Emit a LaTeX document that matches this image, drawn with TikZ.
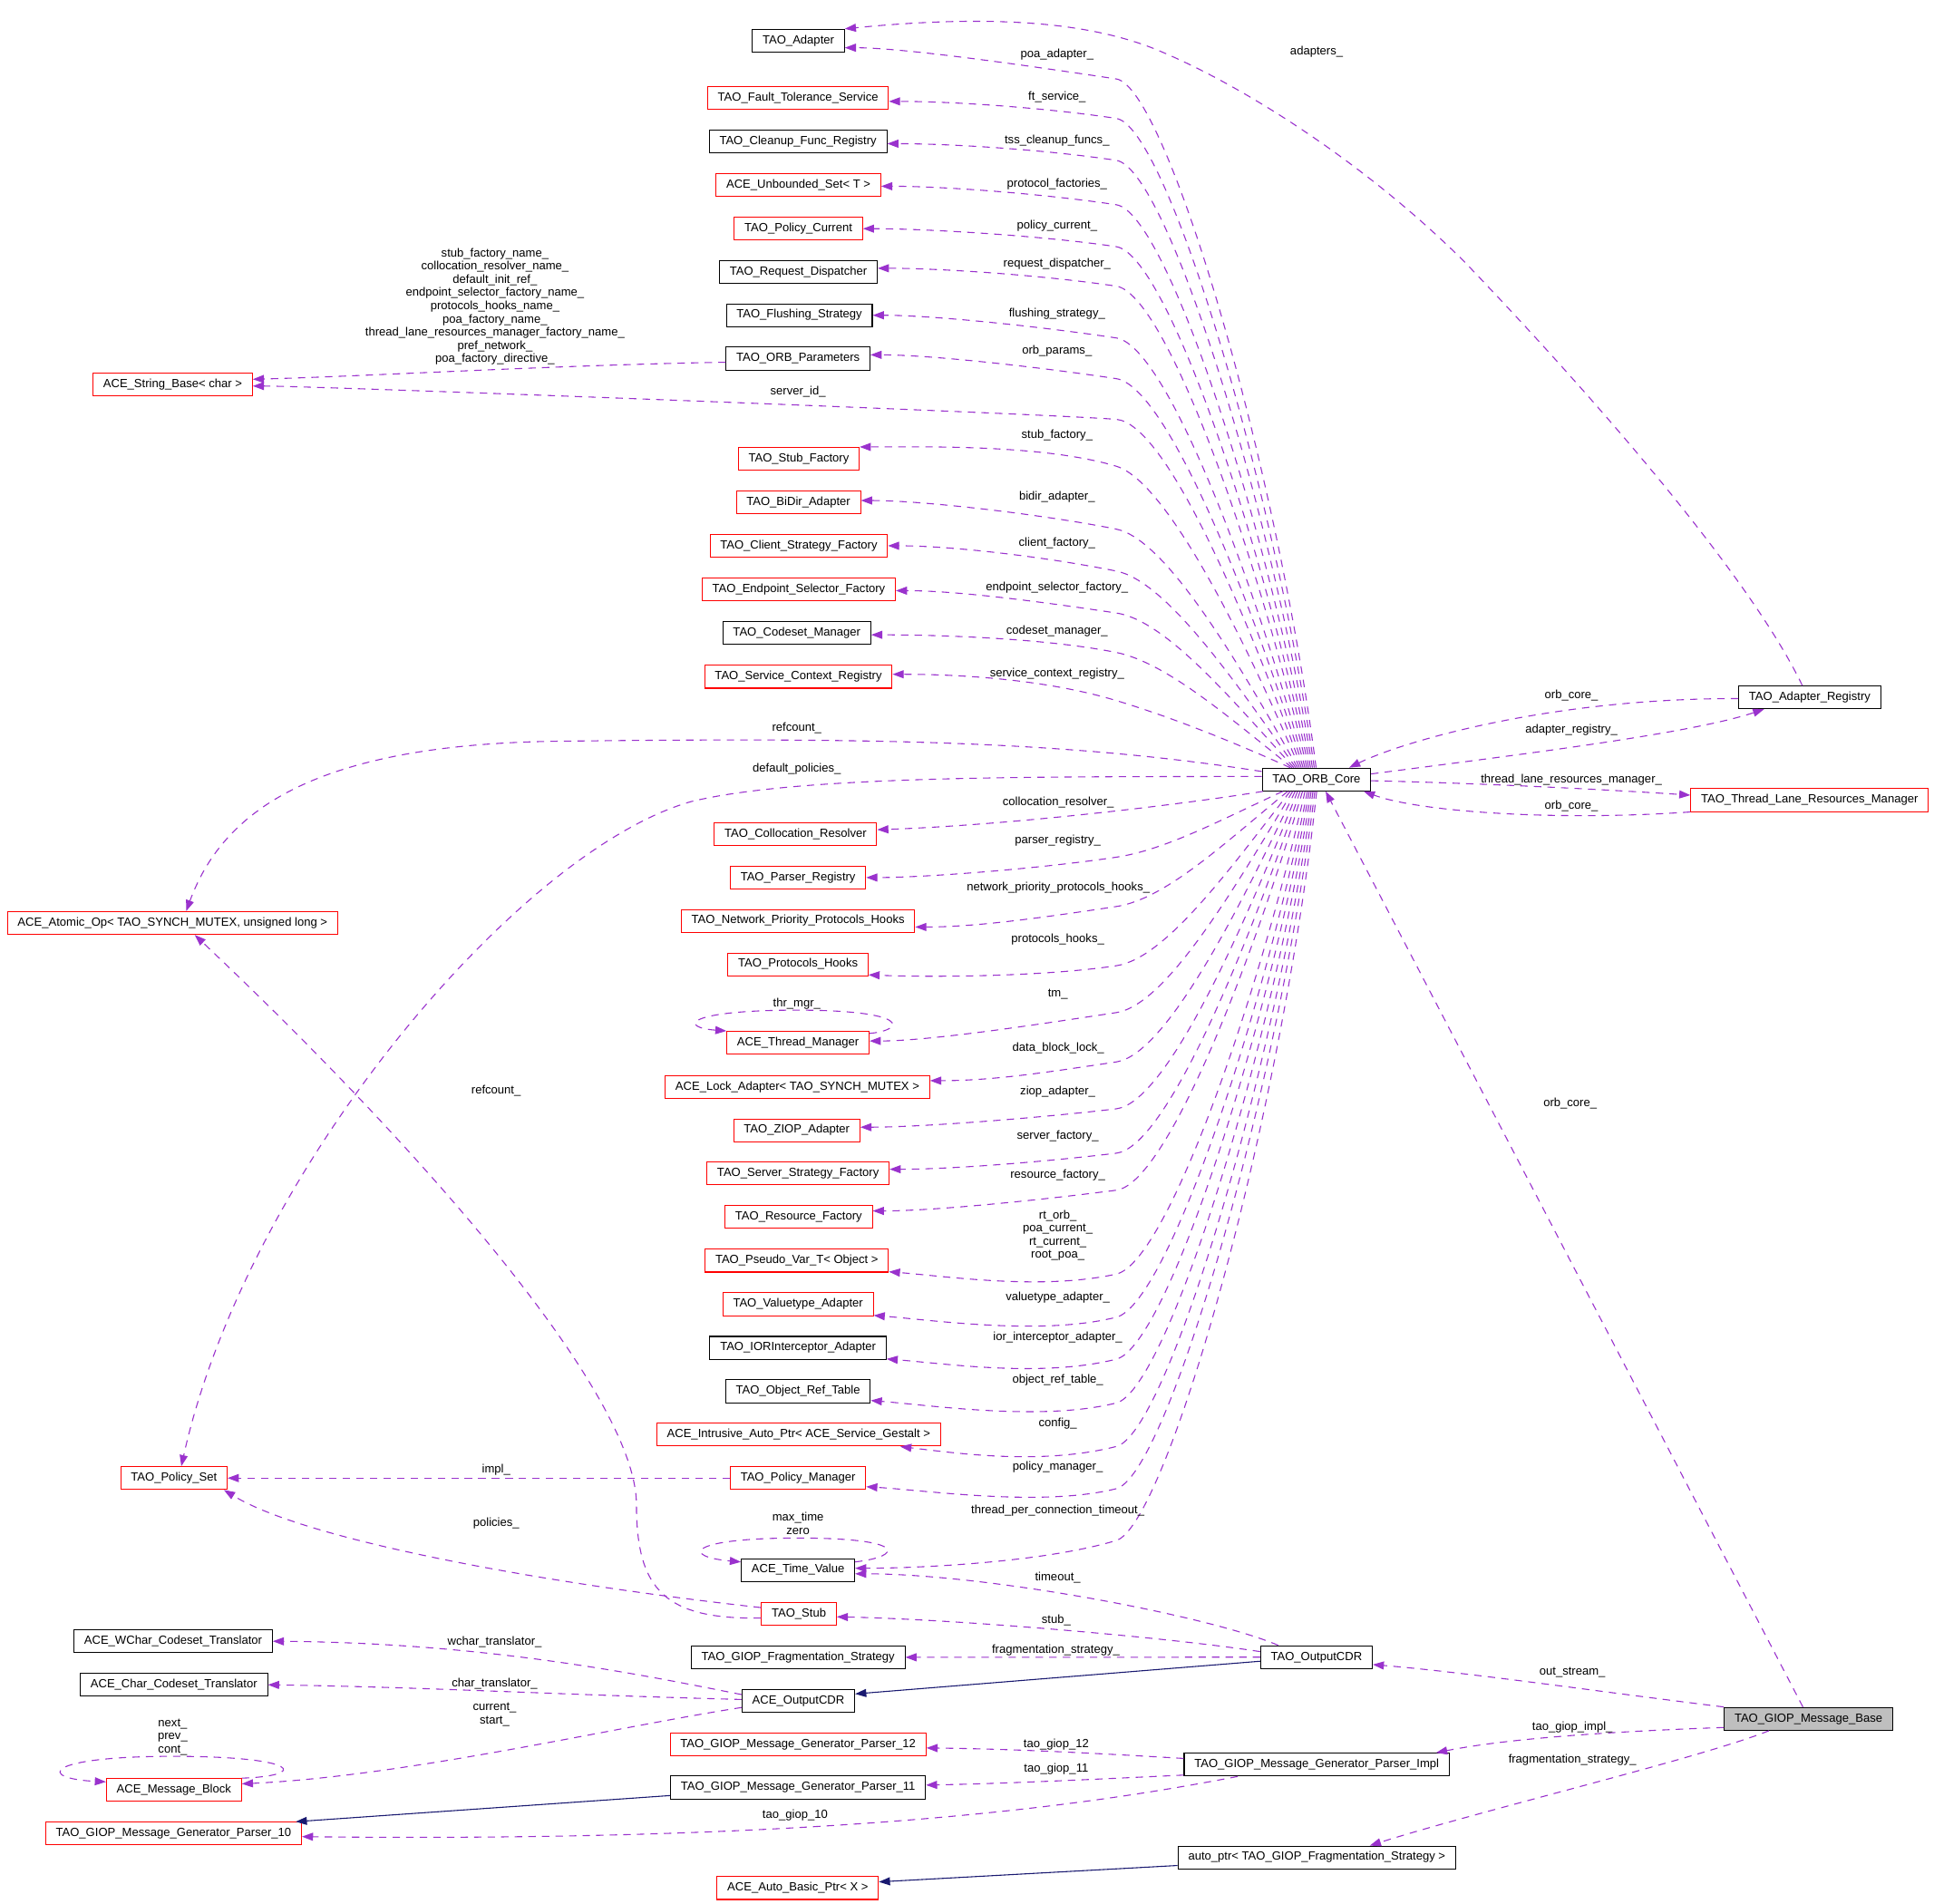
\documentclass[tikz,border=0pt]{standalone}
\usepackage{fontspec}
\setmainfont{Liberation Sans}
\usetikzlibrary{arrows.meta,calc}
\definecolor{depcol}{HTML}{9A32CD}
\definecolor{inhcol}{HTML}{191970}
\definecolor{basefill}{HTML}{BFBFBF}
\tikzset{
  box/.style={draw=black, line width=0.75pt, rectangle, minimum height=18.5pt, inner xsep=8.3pt, inner ysep=0pt, text height=7pt, text depth=2.2pt, font=\fontsize{9.6}{10.7}\selectfont},
  rbox/.style={box, draw=red},
  gbox/.style={box, fill=basefill},
  lab/.style={inner sep=0pt, font=\fontsize{9.6}{10.72}\selectfont, align=center},
  depedge/.style={draw=depcol, line width=0.8pt, dash pattern=on 6pt off 5pt, -{Triangle[length=9pt,width=6.5pt]}},
  inhedge/.style={draw=inhcol, line width=0.8pt, -{Triangle[length=9pt,width=6.5pt]}}
}
\newcommand\orbup[5]{\draw[depedge] ([xshift={#1-1067.3}]core.north) .. controls ({#1-(0.4-0.2*(623-#2)/560)*(#1-905)},{623-0.45*(623-#2)}) and (945,{#2+40*(#3)}) .. (905,#2) .. controls (845,{#2-60*(#3)}) and ($(#4)+(50,#5)$) .. (#4);}
\newcommand\orbdn[5]{\draw[depedge] ([xshift={#1-1067.3}]core.south) .. controls ({#1-(0.4-0.2*(#2-641)/560)*(#1-905)},{641+0.45*(#2-641)}) and (945,{#2+40*(#3)}) .. (905,#2) .. controls (845,{#2-60*(#3)}) and ($(#4)+(50,#5)$) .. (#4);}
\begin{document}
\begin{tikzpicture}[x=1pt,y=-1pt]
\fill[white] (0,0) rectangle (1568,1543.7);
\useasboundingbox (0,0) rectangle (1568,1543.7);

% ---------- nodes ----------
\node[box] (adapter) at (647.3,33) {TAO\_Adapter};
\node[rbox] (ft) at (647,79.2) {TAO\_Fault\_Tolerance\_Service};
\node[box] (cleanup) at (647,114.5) {TAO\_Cleanup\_Func\_Registry};
\node[rbox] (unbounded) at (647.3,150) {ACE\_Unbounded\_Set< T >};
\node[rbox] (polcur) at (647.3,185.4) {TAO\_Policy\_Current};
\node[box] (reqdisp) at (647.3,220.5) {TAO\_Request\_Dispatcher};
\node[box] (flush) at (648,255.6) {TAO\_Flushing\_Strategy};
\node[box] (params) at (647,290.7) {TAO\_ORB\_Parameters};
\node[rbox] (strbase) at (140,311.5) {ACE\_String\_Base< char >};
\node[rbox] (stubfac) at (647.6,372) {TAO\_Stub\_Factory};
\node[rbox] (bidir) at (647.3,407.3) {TAO\_BiDir\_Adapter};
\node[rbox] (client) at (647.6,442.5) {TAO\_Client\_Strategy\_Factory};
\node[rbox] (endpoint) at (647.6,477.9) {TAO\_Endpoint\_Selector\_Factory};
\node[box] (codeset) at (646,513.2) {TAO\_Codeset\_Manager};
\node[rbox] (servctx) at (647.3,548.7) {TAO\_Service\_Context\_Registry};
\node[box] (ar) at (1467.2,565.4) {TAO\_Adapter\_Registry};
\node[box] (core) at (1067.3,632) {TAO\_ORB\_Core};
\node[rbox] (tl) at (1467.1,648.7) {TAO\_Thread\_Lane\_Resources\_Manager};
\node[rbox] (colloc) at (645,676.3) {TAO\_Collocation\_Resolver};
\node[rbox] (parser) at (647,711.5) {TAO\_Parser\_Registry};
\node[rbox] (atomic) at (139.9,748.4) {ACE\_Atomic\_Op< TAO\_SYNCH\_MUTEX, unsigned long >};
\node[rbox] (network) at (647,746.6) {TAO\_Network\_Priority\_Protocols\_Hooks};
\node[rbox] (protohooks) at (647,781.9) {TAO\_Protocols\_Hooks};
\node[rbox] (thrmgr) at (647,845.5) {ACE\_Thread\_Manager};
\node[rbox] (lock) at (646.5,881.2) {ACE\_Lock\_Adapter< TAO\_SYNCH\_MUTEX >};
\node[rbox] (ziop) at (646,916.4) {TAO\_ZIOP\_Adapter};
\node[rbox] (server) at (647,951.5) {TAO\_Server\_Strategy\_Factory};
\node[rbox] (resource) at (647.5,986.8) {TAO\_Resource\_Factory};
\node[rbox] (pseudo) at (646,1022.1) {TAO\_Pseudo\_Var\_T< Object >};
\node[rbox] (valuetype) at (647,1057.5) {TAO\_Valuetype\_Adapter};
\node[box] (ior) at (647,1092.8) {TAO\_IORInterceptor\_Adapter};
\node[box] (objref) at (647,1128) {TAO\_Object\_Ref\_Table};
\node[rbox] (intrusive) at (647.5,1163.2) {ACE\_Intrusive\_Auto\_Ptr< ACE\_Service\_Gestalt >};
\node[rbox] (pset) at (141,1198.4) {TAO\_Policy\_Set};
\node[rbox] (pmgr) at (647,1198.4) {TAO\_Policy\_Manager};
\node[box] (timevalue) at (647,1273) {ACE\_Time\_Value};
\node[rbox] (stub) at (647.7,1308.4) {TAO\_Stub};
\node[box] (wchar) at (140.4,1330.7) {ACE\_WChar\_Codeset\_Translator};
\node[box] (fragstrat) at (647,1343.7) {TAO\_GIOP\_Fragmentation\_Strategy};
\node[box] (ocdr) at (1067.3,1343.6) {TAO\_OutputCDR};
\node[box] (charT) at (141,1366) {ACE\_Char\_Codeset\_Translator};
\node[box] (aocdr) at (647.3,1378.9) {ACE\_OutputCDR};
\node[gbox] (base) at (1466.2,1393.6) {TAO\_GIOP\_Message\_Base};
\node[rbox] (p12) at (647,1414.2) {TAO\_GIOP\_Message\_Generator\_Parser\_12};
\node[box] (impl) at (1067.5,1430.7) {TAO\_GIOP\_Message\_Generator\_Parser\_Impl};
\node[rbox] (msgblock) at (141,1451.3) {ACE\_Message\_Block};
\node[box] (p11) at (647,1449.3) {TAO\_GIOP\_Message\_Generator\_Parser\_11};
\node[rbox] (p10) at (140.7,1486.6) {TAO\_GIOP\_Message\_Generator\_Parser\_10};
\node[box] (autoptr) at (1067.6,1506) {auto\_ptr< TAO\_GIOP\_Fragmentation\_Strategy >};
\node[rbox] (autobasic) at (646.8,1530.8) {ACE\_Auto\_Basic\_Ptr< X >};

% ---------- target points ----------
\coordinate (t1) at ([yshift=-5.7]adapter.east);
\coordinate (t2) at ([yshift=-3]ft.east);
\coordinate (t3) at ([yshift=-2]cleanup.east);
\coordinate (t4) at ([yshift=-1]unbounded.east);
\coordinate (t5) at (polcur.east);
\coordinate (t6) at ([yshift=3]reqdisp.east);
\coordinate (t7) at (flush.east);
\coordinate (t8) at ([yshift=3]params.east);
\coordinate (t9) at ([yshift=-1.5]strbase.east);
\coordinate (t10) at (stubfac.north east);
\coordinate (t11) at ([yshift=1.5]bidir.east);
\coordinate (t12) at (client.east);
\coordinate (t13) at ([yshift=-1]endpoint.east);
\coordinate (t14) at ([yshift=-1.5]codeset.east);
\coordinate (t15) at ([yshift=2]servctx.east);
\coordinate (u1) at ([yshift=3.6]colloc.east);
\coordinate (u2) at (parser.east);
\coordinate (u3) at ([yshift=-5]network.east);
\coordinate (u4) at ([yshift=-8.5]protohooks.east);
\coordinate (u5) at ([yshift=1.5]thrmgr.east);
\coordinate (u6) at ([yshift=5]lock.east);
\coordinate (u7) at ([yshift=2.5]ziop.east);
\coordinate (u8) at ([yshift=3.5]server.east);
\coordinate (u9) at ([yshift=5]resource.east);
\coordinate (u10) at ([yshift=-9]pseudo.east);
\coordinate (u11) at ([yshift=-9]valuetype.east);
\coordinate (u12) at ([yshift=-9]ior.east);
\coordinate (u13) at ([yshift=-7.5]objref.east);
\coordinate (u14) at ([xshift=-33]intrusive.south east);
\coordinate (u15) at ([yshift=-7]pmgr.east);
\coordinate (u16) at ([yshift=1.5]timevalue.east);

% ---------- ORB core fan ----------
\orbup{1067}{64}{0.15}{t1}{0}
\orbup{1065.5}{96}{0.15}{t2}{0}
\orbup{1064}{130}{0.15}{t3}{0}
\orbup{1062.5}{166}{0.15}{t4}{0}
\orbup{1061}{200}{0.15}{t5}{0}
\orbup{1059.5}{232}{0.15}{t6}{0}
\orbup{1058}{274}{0.15}{t7}{0}
\orbup{1056.5}{307}{0.15}{t8}{0}
\orbup{1055}{340}{0.08}{t9}{0}
\orbup{1053.5}{378}{0.3}{t10}{0}
\orbup{1052}{429}{0.2}{t11}{0}
\orbup{1050.5}{463}{0.2}{t12}{0}
\orbup{1049}{497}{0.15}{t13}{0}
\orbup{1047.5}{529}{0.2}{t14}{0}
\orbup{1046}{568}{0.3}{t15}{0}
\draw[depedge] ([xshift=1]core.south west) .. controls (960,652) and (820,669) .. (u1);
\orbdn{1040}{695}{-0.15}{u2}{0}
\orbdn{1044}{735}{-0.15}{u3}{0}
\orbdn{1046}{783}{-0.15}{u4}{2}
\orbdn{1048}{821}{-0.15}{u5}{0}
\orbdn{1050}{861}{-0.15}{u6}{0}
\orbdn{1052}{899}{-0.12}{u7}{0}
\orbdn{1054}{935}{-0.12}{u8}{0}
\orbdn{1056}{965}{-0.13}{u9}{0}
\orbdn{1058}{1033}{-0.22}{u10}{4}
\orbdn{1060}{1068}{-0.25}{u11}{4}
\orbdn{1061.5}{1102}{-0.25}{u12}{4}
\orbdn{1063}{1137.5}{-0.25}{u13}{4}
\orbdn{1064.5}{1172.8}{-0.25}{u14}{6}
\orbdn{1066}{1207}{-0.25}{u15}{3}
\orbdn{1067.5}{1249}{-0.3}{u16}{0}

% core left side
\draw[depedge] ([yshift=6.5]core.west) .. controls (860,600) and (700,598) .. (450,601) .. controls (250,604) and (180,660) .. ([xshift=11]atomic.north);
\draw[depedge] ([yshift=2.5]core.west) .. controls (850,630) and (650,628) .. (560,650) .. controls (420,690) and (200,950) .. ([xshift=6]pset.north);

% right side
\draw[depedge] ([yshift=-1]ar.west) .. controls (1260,566) and (1140,600) .. ([xshift=26.5]core.north);
\draw[depedge] ([yshift=4.5]core.east) .. controls (1230,612) and (1370,595) .. ([xshift=-37]ar.south);
\draw[depedge] ([yshift=-1]core.east) .. controls (1200,635) and (1300,640) .. ([yshift=4]tl.west);
\draw[depedge] (tl.south west) .. controls (1260,666) and (1150,658) .. ([xshift=-6]core.south east);
\draw[depedge] ([xshift=-6]ar.north) .. controls (1420,470) and (1300,330) .. (1188,213) .. controls (1110,135) and (1010,70) .. (937,40) .. controls (880,17) and (800,12) .. (adapter.north east);
\draw[depedge] ([xshift=-4.5]base.north) -- ([xshift=7.5]core.south);
\draw[depedge] (base.north west) .. controls (1300,1372) and (1190,1356) .. ([yshift=-6]ocdr.east);
\draw[depedge] ([yshift=-7]base.west) .. controls (1300,1404) and (1220,1410) .. ([xshift=-11]impl.north east);
\draw[depedge] ([xshift=-32]base.south) .. controls (1380,1425) and (1200,1468) .. ([xshift=43]autoptr.north);

% params -> string base
\draw[depedge] ([yshift=-3]params.west) .. controls (450,296) and (300,305) .. ([yshift=4]strbase.east);

% self loops
\draw[depedge] ([yshift=-2]thrmgr.north east) .. controls (735,835) and (738,819) .. (646,819) .. controls (555,819) and (550,833) .. (thrmgr.north west);
\draw[depedge] ([yshift=-3]timevalue.north east) .. controls (732,1262) and (737,1247) .. (647,1247) .. controls (557,1247) and (552,1262) .. ([yshift=-3]timevalue.north west);
\draw[depedge] (msgblock.north east) .. controls (250,1440) and (245,1424) .. (140,1424) .. controls (35,1424) and (30,1442) .. ([yshift=-3]msgblock.north west);

% policy set / stub
\draw[depedge] (pmgr.west) -- (pset.east);
\draw[depedge] ([yshift=5]stub.west) .. controls (450,1285) and (250,1250) .. ([xshift=-3]pset.south east);
\draw[depedge] ([yshift=-3.5]stub.west) .. controls (540,1313) and (516,1290) .. (516,1220) .. controls (516,1130) and (340,930) .. ([xshift=18]atomic.south);

% output CDR
\draw[depedge] ([xshift=-31]ocdr.north) .. controls (980,1310) and (800,1276) .. ([yshift=-3]timevalue.east);
\draw[depedge] ([yshift=4.5]ocdr.west) .. controls (950,1328) and (780,1313) .. ([yshift=-2.5]stub.east);
\draw[depedge] (ocdr.west) -- (fragstrat.east);
\draw[inhedge] ([yshift=-3.3]ocdr.west) -- ([yshift=5.5]aocdr.east);
\draw[depedge] ([yshift=5]aocdr.west) .. controls (530,1360) and (400,1332) .. (wchar.east);
\draw[depedge] ([yshift=1]aocdr.west) .. controls (450,1374) and (350,1368) .. (charT.east);
\draw[depedge] ([yshift=-5.5]aocdr.west) .. controls (500,1400) and (330,1440) .. ([yshift=5]msgblock.east);

% parsers
\draw[depedge] ([yshift=5]impl.west) .. controls (880,1421) and (820,1418) .. ([yshift=-3]p12.east);
\draw[depedge] ([yshift=-8.5]impl.west) .. controls (900,1442) and (820,1446) .. ([yshift=2]p11.east);
\draw[depedge] ([xshift=-64]impl.south) .. controls (900,1460) and (700,1494) .. ([yshift=-2.5]p10.east);
\draw[inhedge] ([yshift=-6.5]p11.west) -- ([xshift=-5]p10.north east);
\draw[inhedge] ([yshift=-6.5]autoptr.west) -- ([yshift=5]autobasic.east);

% ---------- labels ----------
\node[lab] (L1) at (857,44.3) {poa\_adapter\_};
\node[lab] (L2) at (857,78.7) {ft\_service\_};
\node[lab] (L3) at (857,114.2) {tss\_cleanup\_funcs\_};
\node[lab] (L4) at (857,149.6) {protocol\_factories\_};
\node[lab] (L5) at (857,183) {policy\_current\_};
\node[lab] (L6) at (857,214.3) {request\_dispatcher\_};
\node[lab] (L7) at (857,254.6) {flushing\_strategy\_};
\node[lab] (L8) at (857,284.8) {orb\_params\_};
\node[lab] (L9) at (647,317.6) {server\_id\_};
\node[lab] (L10) at (857,352.7) {stub\_factory\_};
\node[lab] (L11) at (857,403) {bidir\_adapter\_};
\node[lab] (L12) at (857,440.6) {client\_factory\_};
\node[lab] (L13) at (857,476.4) {endpoint\_selector\_factory\_};
\node[lab] (L14) at (857,511.8) {codeset\_manager\_};
\node[lab] (L15) at (857,546) {service\_context\_registry\_};
\node[lab] (L16) at (646,590.3) {refcount\_};
\node[lab] (L17) at (646,623.3) {default\_policies\_};
\node[lab] (L18) at (858,650.5) {collocation\_resolver\_};
\node[lab] (L19) at (857.6,681.7) {parser\_registry\_};
\node[lab] (L20) at (858,719.6) {network\_priority\_protocols\_hooks\_};
\node[lab] (L21) at (857.6,762) {protocols\_hooks\_};
\node[lab] (L22) at (857.6,806) {tm\_};
\node[lab] (L23) at (646,814) {thr\_mgr\_};
\node[lab] (L24) at (858,849.7) {data\_block\_lock\_};
\node[lab] (L25) at (857.6,884.8) {ziop\_adapter\_};
\node[lab] (L26) at (857.6,921) {server\_factory\_};
\node[lab] (L27) at (857.6,953) {resource\_factory\_};
\node[lab] (L28) at (857.6,1001.6) {rt\_orb\_\\poa\_current\_\\rt\_current\_\\root\_poa\_};
\node[lab] (L29) at (857.6,1051.7) {valuetype\_adapter\_};
\node[lab] (L30) at (857.6,1084.7) {ior\_interceptor\_adapter\_};
\node[lab] (L31) at (857.6,1119.2) {object\_ref\_table\_};
\node[lab] (L32) at (857.6,1154.5) {config\_};
\node[lab] (L33) at (857.6,1189.8) {policy\_manager\_};
\node[lab] (L34) at (857.6,1224.9) {thread\_per\_connection\_timeout\_};
\node[lab] (L35) at (402.3,1192) {impl\_};
\node[lab] (L36) at (402.3,1235) {policies\_};
\node[lab] (L37) at (402.2,884.3) {refcount\_};
\node[lab] (L38) at (647,1235.1) {max\_time\\zero};
\node[lab] (L39) at (857.6,1279.3) {timeout\_};
\node[lab] (L40) at (856.3,1313.8) {stub\_};
\node[lab] (L41) at (856,1337.8) {fragmentation\_strategy\_};
\node[lab] (L42) at (401,1331) {wchar\_translator\_};
\node[lab] (L43) at (401,1364.8) {char\_translator\_};
\node[lab] (L44) at (401,1390.2) {current\_\\start\_};
\node[lab] (L45) at (140,1408.3) {next\_\\prev\_\\cont\_};
\node[lab] (L46) at (856.3,1414.3) {tao\_giop\_12};
\node[lab] (L47) at (856.3,1434.6) {tao\_giop\_11};
\node[lab] (L48) at (644.6,1472) {tao\_giop\_10};
\node[lab] (L49) at (1274,564) {orb\_core\_};
\node[lab] (L50) at (1274,591.7) {adapter\_registry\_};
\node[lab] (L51) at (1274,632.6) {thread\_lane\_resources\_manager\_};
\node[lab] (L52) at (1274,653.7) {orb\_core\_};
\node[lab] (L53) at (1067.4,42) {adapters\_};
\node[lab] (L54) at (1273,895) {orb\_core\_};
\node[lab] (L55) at (1274.8,1356.2) {out\_stream\_};
\node[lab] (L56) at (1274.8,1400.3) {tao\_giop\_impl\_};
\node[lab] (L57) at (1274.8,1426.7) {fragmentation\_strategy\_};
\node[lab] (L58) at (401.3,248.5) {stub\_factory\_name\_\\collocation\_resolver\_name\_\\default\_init\_ref\_\\endpoint\_selector\_factory\_name\_\\protocols\_hooks\_name\_\\poa\_factory\_name\_\\thread\_lane\_resources\_manager\_factory\_name\_\\pref\_network\_\\poa\_factory\_directive\_};
\end{tikzpicture}
\end{document}
